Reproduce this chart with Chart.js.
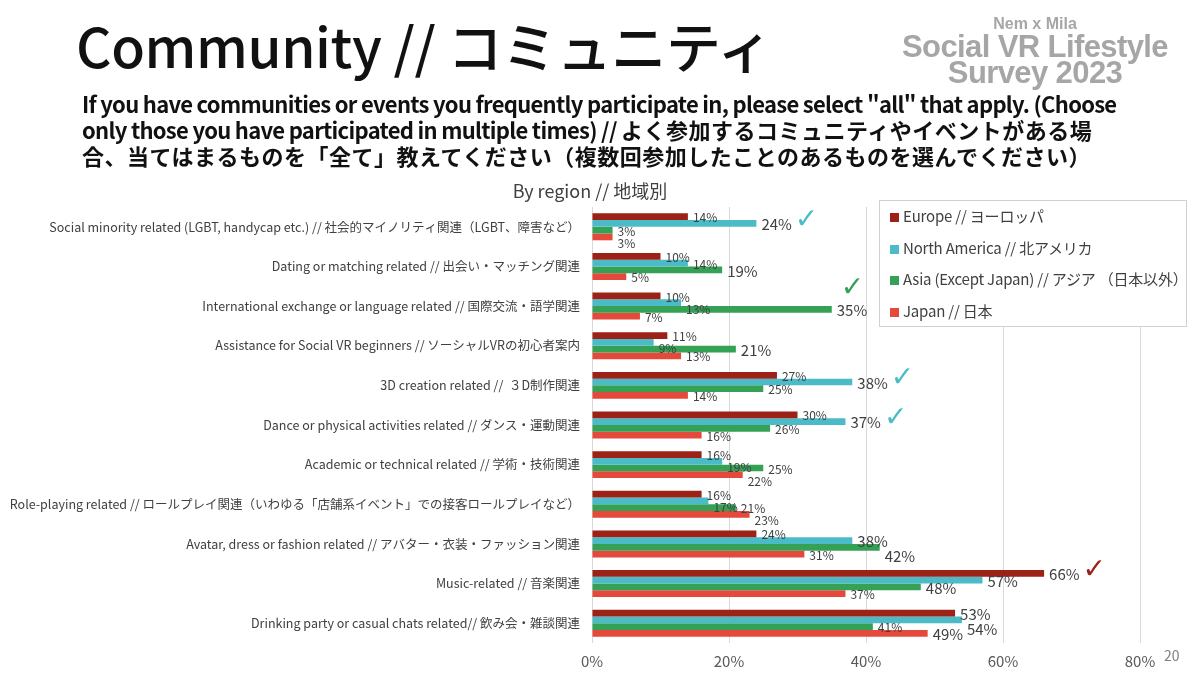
<!DOCTYPE html>
<html lang="ja">
<head>
<meta charset="UTF-8">
<title>Community // コミュニティ</title>
<script src="https://cdn.jsdelivr.net/npm/chart.js"></script>
<style>
    body {
        margin: 0;
        background: #fff;
        font-family: "Noto Sans CJK JP", "Noto Sans", sans-serif;
    }
    .page {
        position: relative;
        width: 1200px;
        height: 675px;
        overflow: hidden;
    }
    .title {
        position: absolute;
        left: 76px;
        top: 17px;
        margin: 0;
        font-size: 55px;
        font-weight: 500;
        line-height: 1;
        color: #111;
        letter-spacing: -0.4px;
    }
    .logo {
        position: absolute;
        left: 880px;
        top: 14px;
        width: 310px;
        text-align: center;
        font-family: "Liberation Sans", Arial, sans-serif;
        font-weight: bold;
        color: #a6a6a6;
    }
    .logo .small { font-size: 16px; line-height: 20px; }
    .logo .big { font-size: 31px; letter-spacing: -0.6px; line-height: 26px; }
    .question {
        position: absolute;
        left: 82px;
        top: 90px;
        margin: 0;
        font-size: 22px;
        font-weight: bold;
        line-height: 26px;
        color: #111;
        white-space: nowrap;
    }
    .question .en { letter-spacing: -0.7px; }
    .question .ja { letter-spacing: 0.5px; }
    .subtitle {
        position: absolute;
        left: 390px;
        width: 400px;
        top: 177px;
        text-align: center;
        font-size: 18px;
        color: #404040;
    }
    .legend {
        position: absolute;
        left: 879px;
        top: 200px;
        width: 306px;
        height: 125px;
        border: 1px solid #d0d0d0;
        background: #fff;
        font-size: 15px;
        color: #404040;
    }
    .legend div {
        position: absolute;
        left: 10px;
        height: 20px;
        line-height: 20px;
        white-space: nowrap;
        letter-spacing: -0.2px;
    }
    .legend span {
        display: inline-block;
        width: 9px;
        height: 9px;
        margin-right: 4px;
    }
    .pageno {
        position: absolute;
        left: 1164px;
        top: 645px;
        font-size: 14px;
        color: #808080;
    }
    #chartBox {
        position: absolute;
        left: 0;
        top: 0;
        width: 1200px;
        height: 675px;
    }
</style>
</head>
<body>
<div class="page">
    <div id="chartBox"><canvas id="regionChart"></canvas></div>
    <h1 class="title">Community // コミュニティ</h1>
    <div class="logo">
        <div class="small">Nem x Mila</div>
        <div class="big">Social VR Lifestyle</div>
        <div class="big">Survey 2023</div>
    </div>
    <p class="question"><span class="en">If you have communities or events you frequently participate in, please select "all" that apply. (Choose</span><br><span class="en">only those you have participated in multiple times) // </span><span class="ja">よく参加するコミュニティやイベントがある場</span><br><span class="ja">合、当てはまるものを「全て」教えてください（複数回参加したことのあるものを選んでください）</span></p>
    <div class="subtitle">By region // 地域別</div>
    <div class="legend" id="legend"></div>
    <div class="pageno">20</div>
</div>

<script>
    // カテゴリ
    const categories = [
        'Social minority related (LGBT, handycap etc.) // 社会的マイノリティ関連（LGBT、障害など）',
        'Dating or matching related // 出会い・マッチング関連',
        'International exchange or language related // 国際交流・語学関連',
        'Assistance for Social VR beginners // ソーシャルVRの初心者案内',
        '3D creation related //  ３D制作関連',
        'Dance or physical activities related // ダンス・運動関連',
        'Academic or technical related // 学術・技術関連',
        'Role-playing related // ロールプレイ関連（いわゆる「店舗系イベント」での接客ロールプレイなど）',
        'Avatar, dress or fashion related // アバター・衣装・ファッション関連',
        'Music-related // 音楽関連',
        'Drinking party or casual chats related// 飲み会・雑談関連'
    ];

    const seriesNames = [
        'Europe // ヨーロッパ',
        'North America // 北アメリカ',
        'Asia (Except Japan) // アジア （日本以外）',
        'Japan // 日本'
    ];

    // 値 (%)
    const europe       = [14, 10, 10, 11, 27, 30, 16, 16, 24, 66, 53];
    const northAmerica = [24, 14, 13,  9, 38, 37, 19, 17, 38, 57, 54];
    const asia         = [ 3, 19, 35, 21, 25, 26, 25, 21, 42, 48, 41];
    const japan        = [ 3,  5,  7, 13, 14, 16, 22, 23, 31, 37, 49];

    const xTicks = [0, 20, 40, 60, 80];

    // 大きく表示するラベル [カテゴリ, 系列]
    const bigLabels = [[0, 1], [1, 2], [2, 2], [3, 2], [4, 1], [5, 1], [8, 1], [8, 2],
                       [9, 0], [9, 1], [9, 2], [10, 0], [10, 1], [10, 3]];
    // チェックマーク [カテゴリ, 系列]
    const checks = [[0, 1], [2, 2], [4, 1], [5, 1], [9, 0]];

    const colors = ['#9c2116', '#4bbcc7', '#34a155', '#e5493b'];
    const seriesValues = [europe, northAmerica, asia, japan];

    // 凡例
    var legendEl = document.getElementById('legend');
    seriesNames.forEach(function(name, i) {
        var d = document.createElement('div');
        d.style.top = (5 + i * 31.5) + 'px';
        d.innerHTML = '<span style="background:' + colors[i] + '"></span>' + name;
        legendEl.appendChild(d);
    });

    // データラベルとチェックマーク
    const labelPlugin = {
        id: 'barLabels',
        afterDatasetsDraw(chart) {
            const ctx = chart.ctx;
            const boxes = [];
            ctx.save();
            ctx.textBaseline = 'middle';
            ctx.textAlign = 'left';
            for (let c = 0; c < categories.length; c++) {
                for (let s = 0; s < seriesValues.length; s++) {
                    const el = chart.getDatasetMeta(s).data[c];
                    const big = bigLabels.some(p => p[0] === c && p[1] === s);
                    const size = big ? 15 : 12;
                    ctx.font = size + 'px "Noto Sans CJK JP", sans-serif';
                    const text = seriesValues[s][c] + '%';
                    const w = ctx.measureText(text).width;
                    let x = el.x + 5;
                    let y = el.y + 1;
                    const h = size;
                    // 重なったら下にずらす
                    let moved = true;
                    while (moved) {
                        moved = false;
                        for (const b of boxes) {
                            if (x < b.x + b.w && x + w > b.x && y - h / 2 < b.y + b.h / 2 && y + h / 2 > b.y - b.h / 2) {
                                y = b.y + b.h / 2 + h / 2;
                                moved = true;
                            }
                        }
                    }
                    boxes.push({x: x, y: y, w: w, h: h});
                    ctx.fillStyle = '#404040';
                    ctx.fillText(text, x, y);

                    if (checks.some(p => p[0] === c && p[1] === s)) {
                        ctx.font = 'bold 28px "DejaVu Sans", sans-serif';
                        ctx.fillStyle = colors[s];
                        if (x + w + 34 > 879 && y < 330) {
                            ctx.fillText('\u2713', x + 4, y - 22);
                        } else {
                            ctx.fillText('\u2713', x + w + 3, y - 4);
                        }
                    }
                }
            }
            ctx.restore();
        }
    };

    var ctx = document.getElementById('regionChart').getContext('2d');
    var chart = new Chart(ctx, {
        type: 'bar',
        data: {
            labels: categories,
            datasets: seriesValues.map(function(vals, i) {
                return {
                    label: seriesNames[i],
                    data: vals,
                    backgroundColor: colors[i],
                    borderWidth: 0,
                    barPercentage: 1.0,
                    categoryPercentage: 0.68
                };
            })
        },
        options: {
            indexAxis: 'y',
            responsive: true,
            maintainAspectRatio: false,
            animation: false,
            layout: {
                padding: {top: 207, right: 60, bottom: 0, left: 0}
            },
            plugins: {
                legend: {display: false},
                tooltip: {enabled: false}
            },
            scales: {
                x: {
                    min: xTicks[0],
                    max: xTicks[xTicks.length - 1],
                    afterBuildTicks: function(axis) {
                        axis.ticks = xTicks.map(v => ({value: v}));
                    },
                    afterFit: function(axis) { axis.height = 32; },
                    grid: {color: '#d9d9d9', lineWidth: 1, drawTicks: false},
                    border: {display: false},
                    ticks: {
                        padding: 9,
                        color: '#595959',
                        font: {family: '"Noto Sans CJK JP"', size: 15},
                        callback: v => v + '%'
                    }
                },
                y: {
                    afterFit: function(axis) { axis.width = 592; },
                    grid: {display: false, drawTicks: false},
                    border: {display: false},
                    ticks: {
                        padding: 12,
                        color: '#404040',
                        autoSkip: false,
                        font: {family: '"Noto Sans CJK JP"', size: 12.5}
                    }
                }
            }
        },
        plugins: [labelPlugin]
    });
</script>
</body>
</html>
